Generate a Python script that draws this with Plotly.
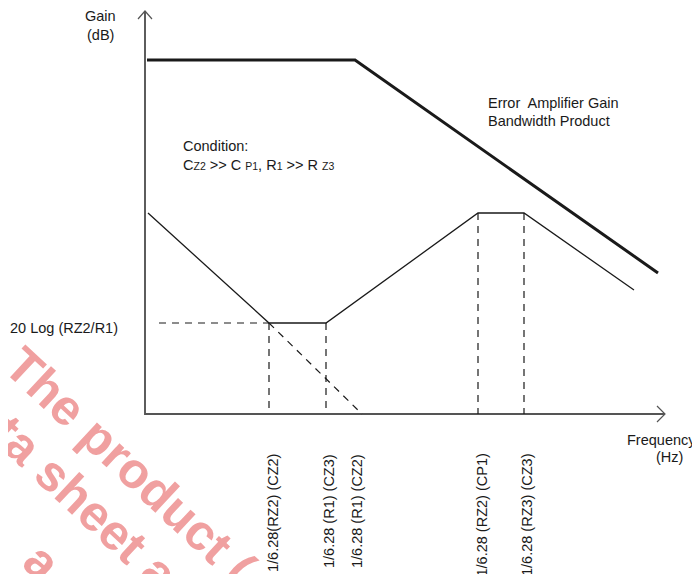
import plotly.graph_objects as go

# ---- diagram data (x to the right, y downward, in drawing units) ----
axis_x = [145, 145, 665]
axis_y = [11, 414, 414]
y_arrow_x = [138, 145, 152]
y_arrow_y = [19, 11, 19]
x_arrow_x = [657, 665, 657]
x_arrow_y = [406, 414, 422]

gain_x = [147, 355, 658]          # error amplifier gain-bandwidth
gain_y = [60, 60, 273]

resp_x = [148, 269, 326, 478, 524, 634]   # compensated response
resp_y = [213, 323, 323, 213, 213, 290]

level_x = [159, 269]
level_y = [323, 323]
ext_x = [269, 362]
ext_y = [323, 414]

drop_x = [269, 326, 478, 524]
drop_top = [323, 323, 213, 213]
axis_level = 414

freq_labels = ["1/6.28(RZ2) (CZ2)", "1/6.28 (R1) (CZ3)", "1/6.28 (R1) (CZ2)",
               "1/6.28 (RZ2) (CP1)", "1/6.28 (RZ3) (CZ3)"]
freq_label_x = [273, 329, 357, 481, 527]

watermark_lines = ["The product (", "data sheet a", "a"]
watermark_x = [130, 64, 42]
watermark_y = [466, 484, 562]

FONT = "Liberation Sans, Arial, Helvetica, sans-serif"
INK = "#1a1a1a"
AXIS = "#555555"
PAGE_OFFSET = 8   # the page body margin shifts the figure by this much

fig = go.Figure()

def line(xs, ys, width, color=INK, dash=None):
    fig.add_trace(go.Scatter(x=xs, y=ys, mode="lines", hoverinfo="skip",
                             line=dict(color=color, width=width, dash=dash),
                             showlegend=False))

line(axis_x, axis_y, 1.9, AXIS)
line(y_arrow_x, y_arrow_y, 1.2, AXIS)
line(x_arrow_x, x_arrow_y, 1.2, AXIS)
line(gain_x, gain_y, 3)
line(resp_x, resp_y, 1.3)
line(level_x, level_y, 1.2, dash="7px,6px")
line(ext_x, ext_y, 1.2, dash="7px,6px")
for dx, dt in zip(drop_x, drop_top):
    line([dx, dx], [dt, axis_level], 1.2, dash="7px,6px")

def text(t, x, y, xanchor="left", yanchor="middle", size=14.5, angle=0, color=INK):
    fig.add_annotation(x=x, y=y, text=t, showarrow=False, xanchor=xanchor,
                       yanchor=yanchor, textangle=angle,
                       font=dict(family=FONT, size=size, color=color))

SUB = "<span style='font-size:10.5px'>%s</span>"
text("Gain", 100, 16, "center")
text("(dB)", 100, 35, "center")
text("Condition:", 181, 146)
text("C" + SUB % "Z2" + " &gt;&gt; C " + SUB % "P1" + ", R" + SUB % "1"
     + " &gt;&gt; R " + SUB % "Z3", 181, 165)
text("Error  Amplifier Gain", 486, 103)
text("Bandwidth Product", 486, 121)
text("20 Log (RZ2/R1)", 8, 328)
text("Frequency", 698, 440, "right")
text("(Hz)", 669, 457, "center")

for lbl, lx in zip(freq_labels, freq_label_x):
    text(lbl, lx, 452, "center", "top", angle=-90)

for wt, wx, wy in zip(watermark_lines, watermark_x, watermark_y):
    fig.add_annotation(x=wx, y=wy, text="<b>" + wt + "</b>", showarrow=False,
                       xanchor="center", yanchor="middle", textangle=43,
                       font=dict(family="Liberation Sans, Arial, sans-serif",
                                 size=50, color="#f0a0a0"))

fig.update_layout(width=700 - PAGE_OFFSET, height=574 - PAGE_OFFSET, autosize=False,
                  margin=dict(l=0, r=0, t=0, b=0),
                  paper_bgcolor="white", plot_bgcolor="white",
                  xaxis=dict(range=[PAGE_OFFSET, 700], visible=False, fixedrange=True),
                  yaxis=dict(range=[574, PAGE_OFFSET], visible=False, fixedrange=True))

fig.write_html("out.html")
